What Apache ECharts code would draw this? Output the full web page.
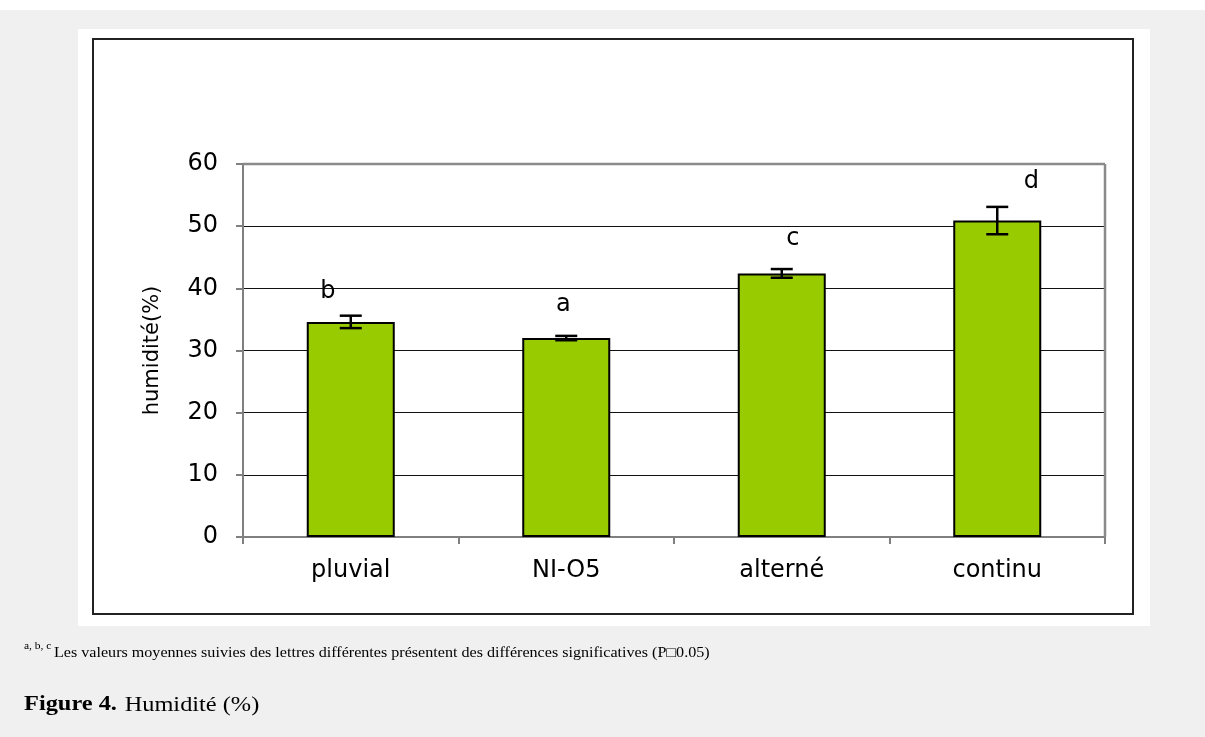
<!DOCTYPE html>
<html>
<head>
<meta charset="utf-8">
<script src="https://cdn.jsdelivr.net/npm/echarts@6/dist/echarts.min.js"></script>
<style>
  html, body { margin: 0; padding: 0; background: #ffffff; }
  #chart { width: 1205px; height: 737px; }
</style>
</head>
<body>
<div id="chart"></div>
<script>
// ---- data ----
const categories = ['pluvial', 'NI-O5', 'alterné', 'continu'];
const means = [34.6, 32.0, 42.4, 50.9];
const errors = [1.0, 0.35, 0.7, 2.2];
const letters = ['b', 'a', 'c', 'd'];
const yTickInterval = 10;
const yMax = 60;
const footnoteSup = 'a, b, c';
const footnoteText = 'Les valeurs moyennes suivies des lettres différentes présentent des différences significatives (P\u25A10.05)';
const captionBold = 'Figure 4.';
const captionText = 'Humidité (%)';
const yAxisName = 'humidité(%)';

// ---- styling (not data) ----
const letterDx = [-23, -3, 11, 34];
const letterDy = [-24, -31, -30, -25];
const axisFont = 'DejaVu Sans';
const gridLeft = 243, gridTop = 164, gridRight = 100, gridBottom = 200;

const chart = echarts.init(document.getElementById('chart'));

const errData = categories.map((c, i) => [i, means[i], errors[i]]);

const option = {
  backgroundColor: '#ffffff',
  animation: false,
  grid: { left: gridLeft, top: gridTop, right: gridRight, bottom: gridBottom, containLabel: false },
  xAxis: {
    type: 'category',
    data: categories,
    boundaryGap: true,
    axisLine: { show: true, lineStyle: { color: '#808080', width: 2 } },
    axisTick: { show: true, alignWithLabel: false, length: 7, lineStyle: { color: '#808080', width: 2 } },
    axisLabel: { color: '#000', fontSize: 24, fontFamily: axisFont, margin: 22 },
    splitLine: { show: false }
  },
  yAxis: {
    type: 'value',
    min: 0,
    max: yMax,
    interval: yTickInterval,
    name: yAxisName,
    nameLocation: 'middle',
    nameGap: 80,
    nameRotate: 90,
    nameTextStyle: { color: '#000', fontSize: 21, fontFamily: axisFont },
    axisLine: { show: true, lineStyle: { color: '#808080', width: 2 } },
    axisTick: { show: true, length: 7, lineStyle: { color: '#808080', width: 2 } },
    axisLabel: { color: '#000', fontSize: 24, fontFamily: axisFont, margin: 25 },
    splitLine: { show: true, lineStyle: { color: '#111', width: 1 } }
  },
  series: [
    {
      type: 'bar',
      data: means,
      barWidth: 88,
      itemStyle: { color: '#99cc00', borderColor: '#000', borderWidth: 2 },
      z: 2
    },
    {
      type: 'custom',
      data: errData,
      z: 3,
      renderItem: function (params, api) {
        const i = api.value(0);
        const m = api.value(1);
        const e = api.value(2);
        const top = api.coord([i, m + e]);
        const bot = api.coord([i, m - e]);
        const half = 11;
        const st = { stroke: '#000', lineWidth: 2.5 };
        return {
          type: 'group',
          children: [
            { type: 'line', shape: { x1: top[0], y1: top[1], x2: bot[0], y2: bot[1] }, style: st },
            { type: 'line', shape: { x1: top[0] - half, y1: top[1], x2: top[0] + half, y2: top[1] }, style: st },
            { type: 'line', shape: { x1: bot[0] - half, y1: bot[1], x2: bot[0] + half, y2: bot[1] }, style: st },
            {
              type: 'text',
              x: top[0] + letterDx[i],
              y: top[1] + letterDy[i],
              style: {
                text: letters[i], fill: '#000', fontSize: 24, fontFamily: axisFont,
                align: 'center', verticalAlign: 'middle'
              }
            }
          ]
        };
      }
    }
  ],
  graphic: {
    elements: [
      { type: 'rect', z: -10, shape: { x: 0, y: 10, width: 1205, height: 727 }, style: { fill: '#f0f0f0' } },
      { type: 'rect', z: -9, shape: { x: 78, y: 29, width: 1072, height: 597 }, style: { fill: '#ffffff' } },
      { type: 'rect', z: -8, shape: { x: 93, y: 39, width: 1040, height: 575 }, style: { fill: '#ffffff', stroke: '#222', lineWidth: 2 } },
      { type: 'line', z: 100, shape: { x1: gridLeft, y1: gridTop, x2: 1205 - gridRight, y2: gridTop }, style: { stroke: '#8a8a8a', lineWidth: 2.5 } },
      { type: 'line', z: 100, shape: { x1: 1205 - gridRight, y1: gridTop, x2: 1205 - gridRight, y2: 737 - gridBottom }, style: { stroke: '#8a8a8a', lineWidth: 2.5 } },
      { type: 'text', z: 5, x: 24, y: 646, scaleX: 1.15, style: { text: footnoteSup, fill: '#000', fontSize: 10, fontFamily: 'Liberation Serif', verticalAlign: 'middle' } },
      { type: 'text', z: 5, x: 54, y: 653, scaleX: 1.15, style: { text: footnoteText, fill: '#000', fontSize: 14, fontFamily: 'Liberation Serif', verticalAlign: 'middle' } },
      {
        type: 'text', z: 5, x: 24, y: 705, scaleX: 1.16,
        style: {
          text: '{b|' + captionBold + '}  {r|' + captionText + '}',
          verticalAlign: 'middle',
          rich: {
            b: { fontSize: 21, fontWeight: 'bold', fontFamily: 'Liberation Serif', fill: '#000' },
            r: { fontSize: 21, fontFamily: 'Liberation Serif', fill: '#000' }
          }
        }
      }
    ]
  }
};

chart.setOption(option);
</script>
</body>
</html>
